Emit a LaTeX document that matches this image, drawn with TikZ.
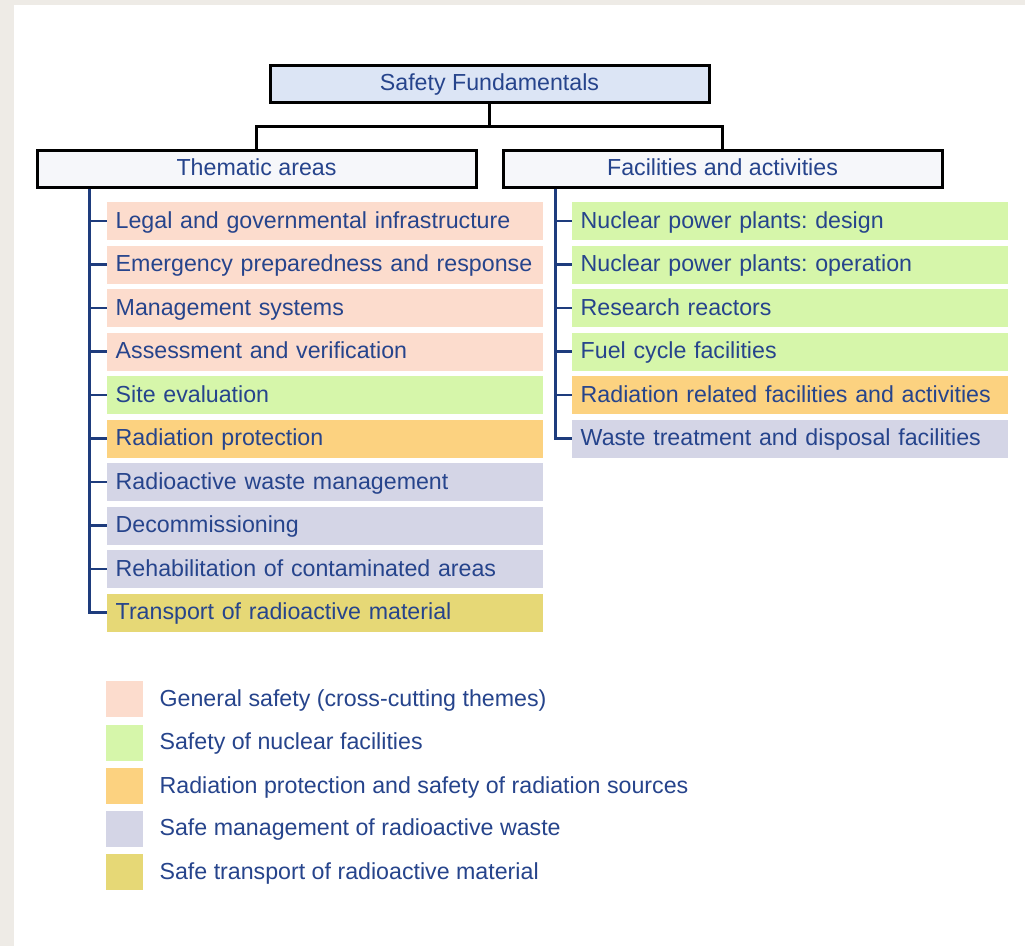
\documentclass[tikz,border=0pt]{standalone}
\usepackage{fontspec}
\setmainfont{Liberation Sans}
\usetikzlibrary{calc}
\frenchspacing
\definecolor{bgframe}{RGB}{238,235,230}
\definecolor{pinkc}{RGB}{252,220,205}
\definecolor{greenc}{RGB}{214,246,170}
\definecolor{orangec}{RGB}{252,210,128}
\definecolor{lavc}{RGB}{212,213,230}
\definecolor{yelc}{RGB}{230,216,118}
\definecolor{headfill}{RGB}{220,229,245}
\definecolor{subfill}{RGB}{246,247,250}
\definecolor{txtc}{RGB}{38,68,140}
\definecolor{linec}{RGB}{30,60,125}
\tikzset{
  txt/.style={font=\fontsize{23.2}{27}\selectfont, text=txtc, text height=18pt, text depth=4pt},
  headbox/.style={txt, draw=black, line width=3pt, minimum height=37pt, inner sep=0pt},
  itembox/.style={txt, anchor=west, minimum height=38pt, text width=419pt, inner xsep=8.5pt, inner ysep=0pt, align=left},
  legsq/.style={anchor=north west, minimum width=37pt, minimum height=36pt, inner sep=0pt},
  legtxt/.style={txt, anchor=west, inner sep=0pt},
  tree/.style={draw=linec, line width=2.6pt},
  conn/.style={draw=black, line width=3pt},
}
\begin{document}
\begin{tikzpicture}[x=1pt,y=-1pt]
\fill[bgframe] (0,0) rectangle (1025,946);
\fill[white] (14,5) rectangle (1025,946);
\useasboundingbox (0,0) rectangle (1025,946);

% headings
\node[headbox, fill=headfill, minimum width=439pt] (sf) at (489.5,83.5) {Safety Fundamentals};
\node[headbox, fill=subfill, minimum width=439pt] (thm) at (256.5,168.5) {Thematic areas};
\node[headbox, fill=subfill, minimum width=439pt] (fac) at (722.5,168.5) {Facilities and activities};

\draw[conn] (sf.south) -- ++(0,23) coordinate (mid);
\draw[conn] (mid) -| (thm.north);
\draw[conn] (mid) -| (fac.north);

% left items
\node[itembox, fill=pinkc]   (l1)  at (107,221)   {Legal and governmental infrastructure};
\node[itembox, fill=pinkc]   (l2)  at (107,264.5) {Emergency preparedness and response};
\node[itembox, fill=pinkc]   (l3)  at (107,308)   {Management systems};
\node[itembox, fill=pinkc]   (l4)  at (107,351.5) {Assessment and verification};
\node[itembox, fill=greenc]  (l5)  at (107,395)   {Site evaluation};
\node[itembox, fill=orangec] (l6)  at (107,438.5) {Radiation protection};
\node[itembox, fill=lavc]    (l7)  at (107,482)   {Radioactive waste management};
\node[itembox, fill=lavc]    (l8)  at (107,525.5) {Decommissioning};
\node[itembox, fill=lavc]    (l9)  at (107,569)   {Rehabilitation of contaminated areas};
\node[itembox, fill=yelc]    (l10) at (107,612.5) {Transport of radioactive material};

% right items
\node[itembox, fill=greenc]  (r1) at (572,221)   {Nuclear power plants: design};
\node[itembox, fill=greenc]  (r2) at (572,264.5) {Nuclear power plants: operation};
\node[itembox, fill=greenc]  (r3) at (572,308)   {Research reactors};
\node[itembox, fill=greenc]  (r4) at (572,351.5) {Fuel cycle facilities};
\node[itembox, fill=orangec] (r5) at (572,395)   {Radiation related facilities and activities};
\node[itembox, fill=lavc]    (r6) at (572,438.5) {Waste treatment and disposal facilities};

% trees
\coordinate (lt) at ($(thm.south west)+(54,0)$);
\coordinate (rt) at ($(fac.south west)+(54,0)$);
\draw[tree] (lt) |- (l10.west);
\foreach \i in {1,...,9} \draw[tree] (l\i.west -| lt) -- (l\i.west);
\draw[tree] (rt) |- (r6.west);
\foreach \i in {1,...,5} \draw[tree] (r\i.west -| rt) -- (r\i.west);

% legend
\node[legsq, fill=pinkc]   (q1) at (106,681) {};
\node[legsq, fill=greenc]  (q2) at (106,724.5) {};
\node[legsq, fill=orangec] (q3) at (106,768) {};
\node[legsq, fill=lavc]    (q4) at (106,810.5) {};
\node[legsq, fill=yelc]    (q5) at (106,854) {};
\node[legtxt] (t1) at ($(q1.east)+(16,0)$) {General safety (cross-cutting themes)};
\node[legtxt] (t2) at ($(q2.east)+(16,0)$) {Safety of nuclear facilities};
\node[legtxt] (t3) at ($(q3.east)+(16,0)$) {Radiation protection and safety of radiation sources};
\node[legtxt] (t4) at ($(q4.east)+(16,0)$) {Safe management of radioactive waste};
\node[legtxt] (t5) at ($(q5.east)+(16,0)$) {Safe transport of radioactive material};
\end{tikzpicture}
\end{document}
